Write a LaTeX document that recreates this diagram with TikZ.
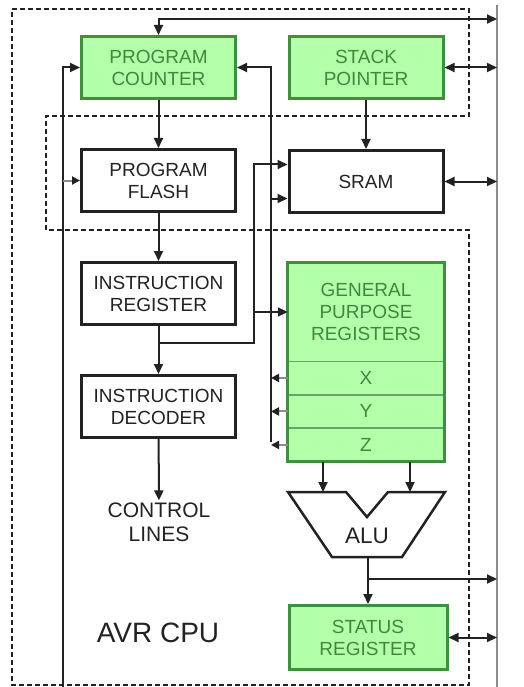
\documentclass[tikz,border=0pt]{standalone}
\usepackage{fontspec}
\setmainfont{Liberation Sans}
\usetikzlibrary{arrows.meta}
\usetikzlibrary{positioning}

\definecolor{regfill}{HTML}{B3FFAA}
\definecolor{regline}{HTML}{3F8F3F}
\definecolor{regtext}{HTML}{3C8A3C}
\definecolor{busgray}{HTML}{8C8C8C}
\definecolor{ink}{HTML}{222222}

\tikzset{
  >={Triangle[length=10pt,width=9pt]},
  block/.style={draw=ink, fill=white, line width=3pt, minimum width=154pt, minimum height=62pt,
    align=center, text=ink, font=\fontsize{19}{22}\selectfont},
  greenblock/.style={block, draw=regline, fill=regfill, text=regtext},
  regrow/.style={draw=regline!80, fill=regfill, line width=1pt, minimum width=156pt,
    minimum height=32.5pt, inner sep=0pt, text=regtext, font=\fontsize{19}{22}\selectfont},
  wire/.style={draw=ink, line width=2pt},
  stub/.style={draw=busgray, line width=2pt, -{Triangle[length=8pt,width=8pt,color=ink]}},
  cpuedge/.style={draw=ink, line width=1.5pt, dash pattern=on 5pt off 3pt},
}

\begin{document}
\begin{tikzpicture}[x=1pt, y=-1pt]
  \useasboundingbox (0,0) rectangle (523,687);

  % cpu border, memories left outside
  \draw[cpuedge] (12,9) -- (469,9) -- (469,116) -- (46,116) -- (46,230)
    -- (469,230) -- (469,685) -- (12,685) -- cycle;

  % data bus
  \coordinate (bustop) at (497,5);
  \coordinate (busbot) at (497,687);
  \draw[busgray, line width=1.5pt] (bustop) -- (busbot);

  % left column
  \node[greenblock] (pc) at (158.5,67.5) {PROGRAM\\COUNTER};
  \node[block, below=48pt of pc] (flash) {PROGRAM\\FLASH};
  \node[block, below=48pt of flash] (ir) {INSTRUCTION\\REGISTER};
  \node[block, below=48pt of ir] (dec) {INSTRUCTION\\DECODER};
  \node[text=ink, align=center, font=\fontsize{21}{24}\selectfont, inner sep=2pt] (ctrl) at (159,522) {CONTROL\\LINES};
  \node[text=ink, font=\fontsize{28}{32}\selectfont] (cpu) at (158,633) {AVR CPU};

  % right column
  \node[greenblock] (sp) at (366,67.5) {STACK\\POINTER};
  \node[block] (sram) at (366,181.5) {SRAM};

  \node[fill=regfill, minimum width=156pt, minimum height=98pt, align=center, text=regtext,
    font=\fontsize{19}{22}\selectfont] (gpr) at (366,312) {GENERAL\\PURPOSE\\REGISTERS};
  \node[regrow, below=0pt of gpr.south, anchor=north] (regx) {X};
  \node[regrow, below=0pt of regx.south, anchor=north] (regy) {Y};
  \node[regrow, below=0pt of regy.south, anchor=north] (regz) {Z};
  \draw[regline, line width=3pt] (gpr.north west) rectangle (regz.south east);

  % alu
  \coordinate (aluina) at (323,492);
  \coordinate (aluinb) at (410,492);
  \coordinate (aluout) at (368,557);
  \draw[ink, fill=white, line width=2.5pt, line join=miter] (288,492) -- (346,492) -- (367,517)
    -- (388,492) -- (445,492) -- (402,557) -- (332,557) -- cycle;
  \node[text=ink, font=\fontsize{22.5}{26}\selectfont] (alu) at (367,536) {ALU};

  \node[greenblock, minimum width=158pt, minimum height=64pt] (sreg) at (368,637.5) {STATUS\\REGISTER};

  % instruction path
  \draw[wire, ->] (pc) -- (flash);
  \draw[wire, ->] (flash) -- (ir);
  \draw[wire, ->] (ir) -- (dec);
  \draw[wire, ->] (dec) -- (ctrl);
  \draw[wire, ->] (sp) -- (sram);

  % jump target into pc, and flash address
  \coordinate (jmp) at (63,687);
  \draw[wire, ->] (jmp) |- (pc.west);
  \draw[stub] (flash.west -| jmp) -- (flash.west);

  % immediate operands from ir
  \coordinate (irtap) at (158.5,343);
  \coordinate (imm) at (254,343);
  \coordinate (sramhi) at ([yshift=17pt]sram.west);
  \coordinate (sramlo) at ([yshift=-17pt]sram.west);
  \draw[wire, ->] (irtap) -- (imm) |- (sramhi);
  \draw[wire, ->] (imm |- gpr.west) -- (gpr.west);

  % pointer registers X, Y, Z
  \coordinate (ptr) at (271,442);
  \draw[wire, ->] (ptr) |- (pc.east);
  \draw[wire, ->] (sramlo -| ptr) -- (sramlo);
  \draw[stub] (regx.west) -- (regx.west -| ptr);
  \draw[stub] (regy.west) -- (regy.west -| ptr);
  \draw[stub] (regz.west) -- (regz.west -| ptr);

  % alu operands and result
  \draw[wire, ->] (aluina |- regz.south) -- (aluina);
  \draw[wire, ->] (aluinb |- regz.south) -- (aluinb);
  \draw[wire, ->] (aluout) -- (sreg.north);
  \draw[wire, ->] (aluout |- 0,579) -- (bustop |- 0,579);

  % bus connections
  \draw[wire, <->] (pc.north) |- (bustop |- 0,19);
  \draw[wire, <->] (sp.east) -- (sp.east -| bustop);
  \draw[wire, <->] (sram.east) -- (sram.east -| bustop);
  \draw[wire, <->] (sreg.east) -- (sreg.east -| bustop);
\end{tikzpicture}
\end{document}
